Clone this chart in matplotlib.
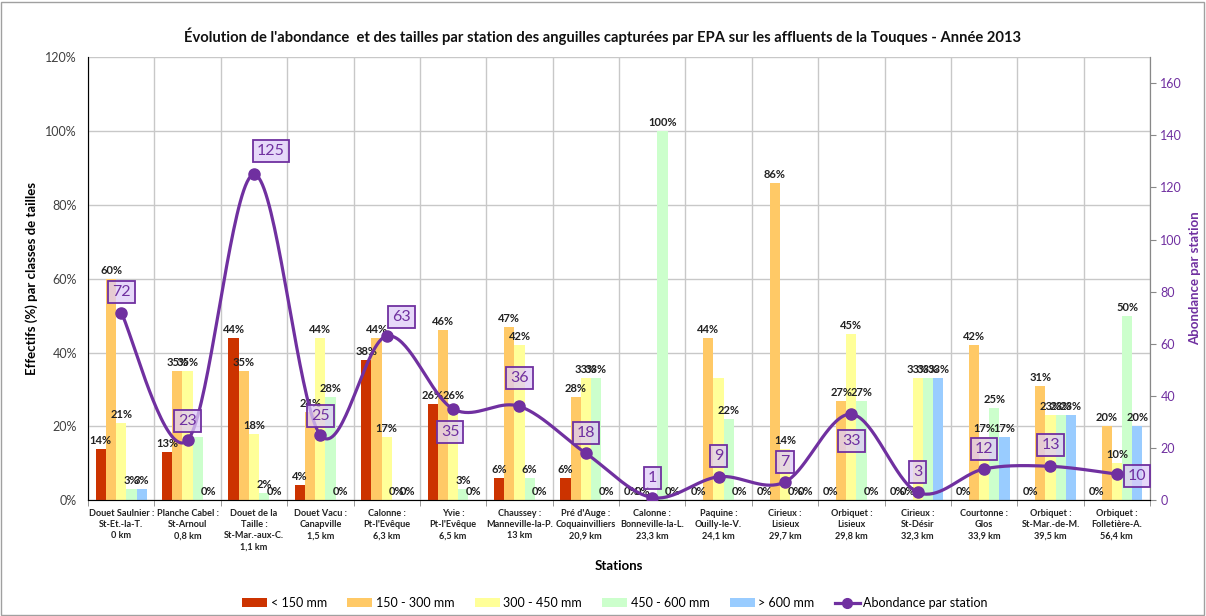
import numpy as np
import matplotlib
matplotlib.use("Agg")
import matplotlib.pyplot as plt
from matplotlib.patches import Patch, Rectangle
from matplotlib.lines import Line2D
from matplotlib.ticker import FuncFormatter, FixedLocator

plt.rcParams['font.family'] = ['Lato', 'DejaVu Sans']

stations = [
    "Douet Saulnier :\nSt-Et.-la-T.\n0 km",
    "Planche Cabel :\nSt-Arnoul\n0,8 km",
    "Douet de la\nTaille :\nSt-Mar.-aux-C.\n1,1 km",
    "Douet Vacu :\nCanapville\n1,5 km",
    "Calonne :\nPt-l'Evêque\n6,3 km",
    "Yvie :\nPt-l'Evêque\n6,5 km",
    "Chaussey :\nManneville-la-P.\n13 km",
    "Pré d'Auge :\nCoquainvilliers\n20,9 km",
    "Calonne :\nBonneville-la-L.\n23,3 km",
    "Paquine :\nOuilly-le-V.\n24,1 km",
    "Cirieux :\nLisieux\n29,7 km",
    "Orbiquet :\nLisieux\n29,8 km",
    "Cirieux :\nSt-Désir\n32,3 km",
    "Courtonne :\nGlos\n33,9 km",
    "Orbiquet :\nSt-Mar.-de-M.\n39,5 km",
    "Orbiquet :\nFolletière-A.\n56,4 km",
]

class_names = ["< 150 mm", "150 - 300 mm", "300 - 450 mm", "450 - 600 mm", "> 600 mm"]
lt150 =   [0.14, 0.13, 0.44, 0.04, 0.38, 0.26, 0.06, 0.06, 0.00, 0.00, 0.00, 0.00, 0.00, 0.00, 0.00, 0.00]
c150_300 = [0.60, 0.35, 0.35, 0.24, 0.44, 0.46, 0.47, 0.28, 0.00, 0.44, 0.86, 0.27, 0.00, 0.42, 0.31, 0.20]
c300_450 = [0.21, 0.35, 0.18, 0.44, 0.17, 0.26, 0.42, 0.33, 0.00, 0.33, 0.14, 0.45, 0.33, 0.17, 0.23, 0.10]
c450_600 = [0.03, 0.17, 0.02, 0.28, 0.00, 0.03, 0.06, 0.33, 1.00, 0.22, 0.00, 0.27, 0.33, 0.25, 0.23, 0.50]
gt600 =   [0.03, 0.00, 0.00, 0.00, 0.00, 0.00, 0.00, 0.00, 0.00, 0.00, 0.00, 0.00, 0.33, 0.17, 0.23, 0.20]
abondance = [72, 23, 125, 25, 63, 35, 36, 18, 1, 9, 7, 33, 3, 12, 13, 10]

series = [lt150, c150_300, c300_450, c450_600, gt600]
colors = ["#CC3300", "#FFC966", "#FFFF99", "#CCFFCC", "#99CCFF"]
purple = "#7030A0"

# labels hidden in the original (covered) : (series index, station index)
hidden = {(3, 1), (2, 9), (2, 8)}
# abundance label offsets in pixels (dx, dy) relative to point
ab_off = [(0, 21), (0, 19), (17, 23), (0, 19), (15, 19), (-3, -23), (0, 28), (0, 20),
          (0, 20), (0, 21), (0, 20), (0, -27), (0, 20), (0, 20), (0, 21), (20, -2)]

fig = plt.figure(figsize=(12.06, 6.16), dpi=100)
fig.patches.append(Rectangle((0.001, 0.002), 0.997, 0.995, transform=fig.transFigure,
                             fill=False, edgecolor="#A0A0A0", lw=1.0))
ax = fig.add_axes([0.073, 0.188, 0.8806, 0.7192])
ax2 = ax.twinx()

n = len(stations)
x = np.arange(n)
bw = 0.154
for k, (vals, col, name) in enumerate(zip(series, colors, class_names)):
    xs = x + (k - 2) * bw
    ax.bar(xs, vals, width=bw, color=col, edgecolor='none', zorder=2, label=name)
    for i, v in enumerate(vals):
        if (k, i) in hidden:
            continue
        ax.annotate(f"{round(v*100):d}%", (xs[i], v), xytext=(0, 3), textcoords='offset pixels',
                    ha='center', va='bottom', fontsize=8, fontweight='bold', color='#222222', zorder=3)

ax.set_xlim(-0.5, n - 0.5)
ax.set_ylim(0, 1.2)
ax.set_yticks(np.arange(0, 1.21, 0.2))
ax.yaxis.set_major_formatter(FuncFormatter(lambda v, p: f"{round(v*100):d}%"))
ax.set_xticks(x)
ax.set_xticklabels(stations, fontsize=6.6, fontweight='bold', color='#222222', linespacing=1.35, va='top')
ax.xaxis.set_minor_locator(FixedLocator(np.arange(-0.5, n, 1.0)))
ax.tick_params(axis='x', which='major', length=0, pad=6)
ax.tick_params(axis='x', which='minor', length=4, color='#888888')
ax.tick_params(axis='y', length=0, labelsize=9, colors='#404040', pad=8)
ax.grid(axis='y', color='#C8C8C8', lw=1.0, zorder=0)
ax.grid(axis='x', which='minor', color='#C8C8C8', lw=1.0, zorder=0)
ax.set_axisbelow(True)
ax.spines['top'].set_visible(False)
ax.spines['left'].set_color('#888888')
ax.spines['bottom'].set_color('#888888')
ax.spines['right'].set_color('#888888')
ax.set_ylabel("Effectifs (%) par classes de tailles", fontsize=9.5, fontweight='bold', labelpad=5)
ax.set_xlabel("Stations", fontsize=9.5, fontweight='bold', labelpad=6)

# smoothed line (Excel-like Bezier)
pts = np.column_stack([x, abondance]).astype(float)
curve = []
for i in range(len(pts) - 1):
    p0 = pts[i - 1] if i > 0 else pts[i]
    p1 = pts[i]
    p2 = pts[i + 1]
    p3 = pts[i + 2] if i + 2 < len(pts) else pts[i + 1]
    c1 = p1 + (p2 - p0) / 6
    c2 = p2 - (p3 - p1) / 6
    t = np.linspace(0, 1, 40)[:, None]
    seg = (1 - t) ** 3 * p1 + 3 * (1 - t) ** 2 * t * c1 + 3 * (1 - t) * t ** 2 * c2 + t ** 3 * p2
    curve.append(seg)
curve = np.vstack(curve)
ax2.plot(curve[:, 0], curve[:, 1], color=purple, lw=2.3, zorder=4)
ax2.plot(x, abondance, 'o', color=purple, ms=8, zorder=5)
for i, v in enumerate(abondance):
    dx, dy = ab_off[i]
    ax2.annotate(str(v), (x[i], v), xytext=(dx, dy), textcoords='offset pixels',
                 ha='center', va='center', fontsize=11.5, color=purple, zorder=6,
                 bbox=dict(boxstyle='square,pad=0.25', facecolor=(0.87, 0.80, 0.97, 0.75),
                           edgecolor=purple, lw=1.3))
ax2.set_ylim(0, 170)
ax2.set_yticks(np.arange(0, 161, 20))
ax2.tick_params(axis='y', labelsize=9, length=4, direction='out', color='#888888', labelcolor=purple)
ax2.spines['right'].set_color('#888888')
ax2.spines['top'].set_visible(False)
ax2.set_ylabel("Abondance par station", fontsize=9.5, fontweight='bold', color=purple, labelpad=5)

fig.suptitle("Évolution de l'abondance  et des tailles par station des anguilles capturées par EPA sur les affluents de la Touques - Année 2013",
             y=0.955, fontsize=10.6, fontweight='bold', color='#111111')

handles = [Patch(facecolor=c, edgecolor='none') for c in colors]
handles.append(Line2D([0], [0], color=purple, lw=2.3, marker='o', ms=7))
labels = class_names + ["Abondance par station"]
fig.legend(handles, labels, loc='center', bbox_to_anchor=(0.51, 0.021), ncol=6, frameon=False,
           fontsize=9, handlelength=2.0, handleheight=0.7, columnspacing=1.6, handletextpad=0.3)

fig.savefig("out.png", dpi=100)
